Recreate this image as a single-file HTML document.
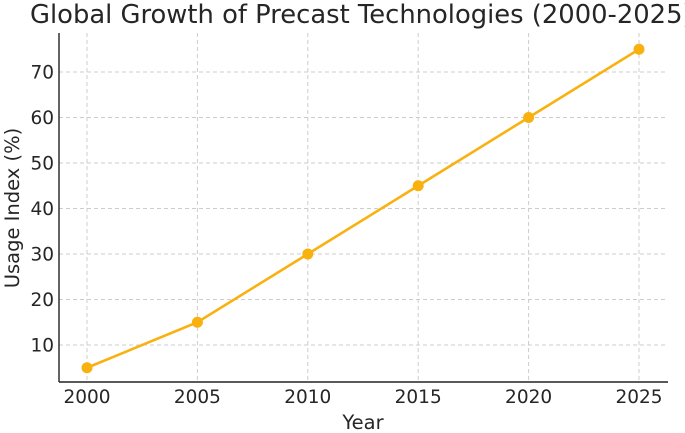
<!DOCTYPE html>
<html><head><meta charset="utf-8"><style>
html,body{margin:0;padding:0;background:#fff;overflow:hidden;}
svg{display:block;font-family:"DejaVu Sans","Liberation Sans",sans-serif;}
</style></head><body>
<svg id="chart" width="685" height="433"></svg>
<script>
const years = [2000, 2005, 2010, 2015, 2020, 2025];
const usage = [5, 15, 30, 45, 60, 75];
const yTicks = [10, 20, 30, 40, 50, 60, 70];
const xTicks = [2000, 2005, 2010, 2015, 2020, 2025];

const NS = "http://www.w3.org/2000/svg";
const svg = document.getElementById("chart");
const X = v => 87 + (v - 2000) * (552 / 25);
const Y = v => 345 - (v - 10) * (273 / 60);
function mk(tag, attrs, parent) {
  const e = document.createElementNS(NS, tag);
  for (const k in attrs) e.setAttribute(k, attrs[k]);
  (parent || svg).appendChild(e);
  return e;
}
const L = 59, R = 668, T = 33, B = 382;
const TXT = "#262626";

// grid
const grid = mk("g", {});


yTicks.forEach(v => {
  const l = mk("line", {x1: L, x2: R, y1: Y(v), y2: Y(v), stroke: "#ccc", "stroke-width": 1, "stroke-dasharray": "4,3"}, grid);
  
  
});
xTicks.forEach(v => {
  const l = mk("line", {x1: X(v), x2: X(v), y1: T, y2: B, stroke: "#ccc", "stroke-width": 1, "stroke-dasharray": "4,3"}, grid);
  
  
});

// axes
const ya = mk("line", {x1: L, x2: L, y1: T, y2: B, stroke: "#222", "stroke-width": 1.4});


const xa = mk("line", {x1: L, x2: R, y1: B, y2: B, stroke: "#222", "stroke-width": 1.4});



yTicks.forEach(v => {
  const tx = mk("text", {x: L - 5, y: Y(v) + 6.5, "text-anchor": "end", "font-size": 18.5, fill: TXT});
  tx.textContent = v;
  
  
});
xTicks.forEach(v => {
  const tx = mk("text", {x: X(v), y: B + 21, "text-anchor": "middle", "font-size": 18.5, fill: TXT});
  tx.textContent = v;
  
  
});

// series
const pts = years.map((y, i) => X(y) + "," + Y(usage[i])).join(" ");
const line = mk("polyline", {points: pts, fill: "none", stroke: "#f9b10f", "stroke-width": 2.6});


years.forEach((y, i) => {
  const c = mk("circle", {cx: X(y), cy: Y(usage[i]), r: 5.5, fill: "#f9b10f"});
  
  
});

// labels
const title = mk("text", {x: 30, y: 23, "font-size": 25.8, fill: TXT});
title.textContent = "Global Growth of Precast Technologies (2000-2025)";


const xl = mk("text", {x: 363, y: 429, "text-anchor": "middle", "font-size": 19.5, fill: TXT});
xl.textContent = "Year";


const yl = mk("text", {x: 0, y: 0, "text-anchor": "middle", "font-size": 19.5, fill: TXT, transform: "translate(19,208) rotate(-90)"});
yl.textContent = "Usage Index (%)";


</script>
</body></html>
